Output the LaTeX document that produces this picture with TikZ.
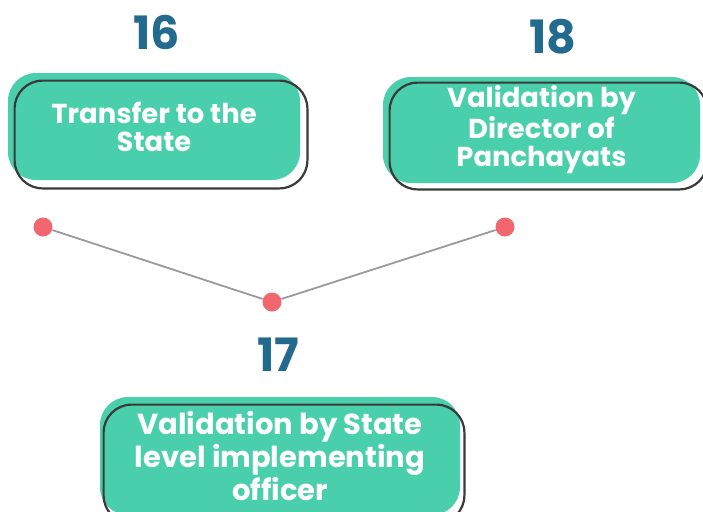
\documentclass[tikz,border=0pt]{standalone}
\usepackage{fontspec}
\setmainfont{Poppins}
\definecolor{cardteal}{HTML}{4ACFAC}
\definecolor{edgegray}{HTML}{3A3A3A}
\definecolor{numblue}{HTML}{236B8E}
\definecolor{dotred}{HTML}{F2666D}
\definecolor{linkgray}{HTML}{9A9A9A}
\begin{document}
\begin{tikzpicture}[
    x=0.5pt, y=-0.5pt,
    card/.style={fill=cardteal, rounded corners=14pt, text=white, align=center,
                 inner sep=0pt, font=\bfseries\fontsize{13.7}{14}\selectfont},
    bigcard/.style={card, font=\bfseries\fontsize{14.5}{16.5}\selectfont},
    cardedge/.style={draw=edgegray, line width=1.1pt, rounded corners=14pt},
    stepnum/.style={text=numblue, font=\bfseries\fontsize{23}{23}\selectfont},
    dot/.style={circle, fill=dotred, minimum size=9.5pt, inner sep=0pt},
    link/.style={draw=linkgray, line width=0.9pt}]

\useasboundingbox (0,0) rectangle (703,511);

\node[card, minimum width=146pt, minimum height=53.5pt] (transfer) at (154,126.5) {Transfer to the\\State};
\draw[cardedge] ([shift={(7,8)}]transfer.north west) rectangle ([shift={(7,8)}]transfer.south east);

\node[card, minimum width=158.5pt, minimum height=53pt] (director) at (541.5,130) {Validation by\\Director of\\Panchayats};
\draw[cardedge] ([shift={(7,6)}]director.north west) rectangle ([shift={(7,6)}]director.south east);

\node[bigcard, minimum width=180pt, minimum height=59pt] (officer) at (280,456) {Validation by State\\level implementing\\officer};
\draw[cardedge] ([shift={(4,8)}]officer.north west) rectangle ([shift={(4,8)}]officer.south east);

\node[stepnum] (n16) at (157,32) {16};
\node[stepnum] (n18) at (553,37) {18};
\node[stepnum] (n17) at (278,355) {17};

\node[dot] (left) at (43,227) {};
\node[dot] (right) at (505,227) {};
\node[dot] (bottom) at (272,302) {};

\draw[link] (left) -- (bottom) -- (right);

\end{tikzpicture}
\end{document}
